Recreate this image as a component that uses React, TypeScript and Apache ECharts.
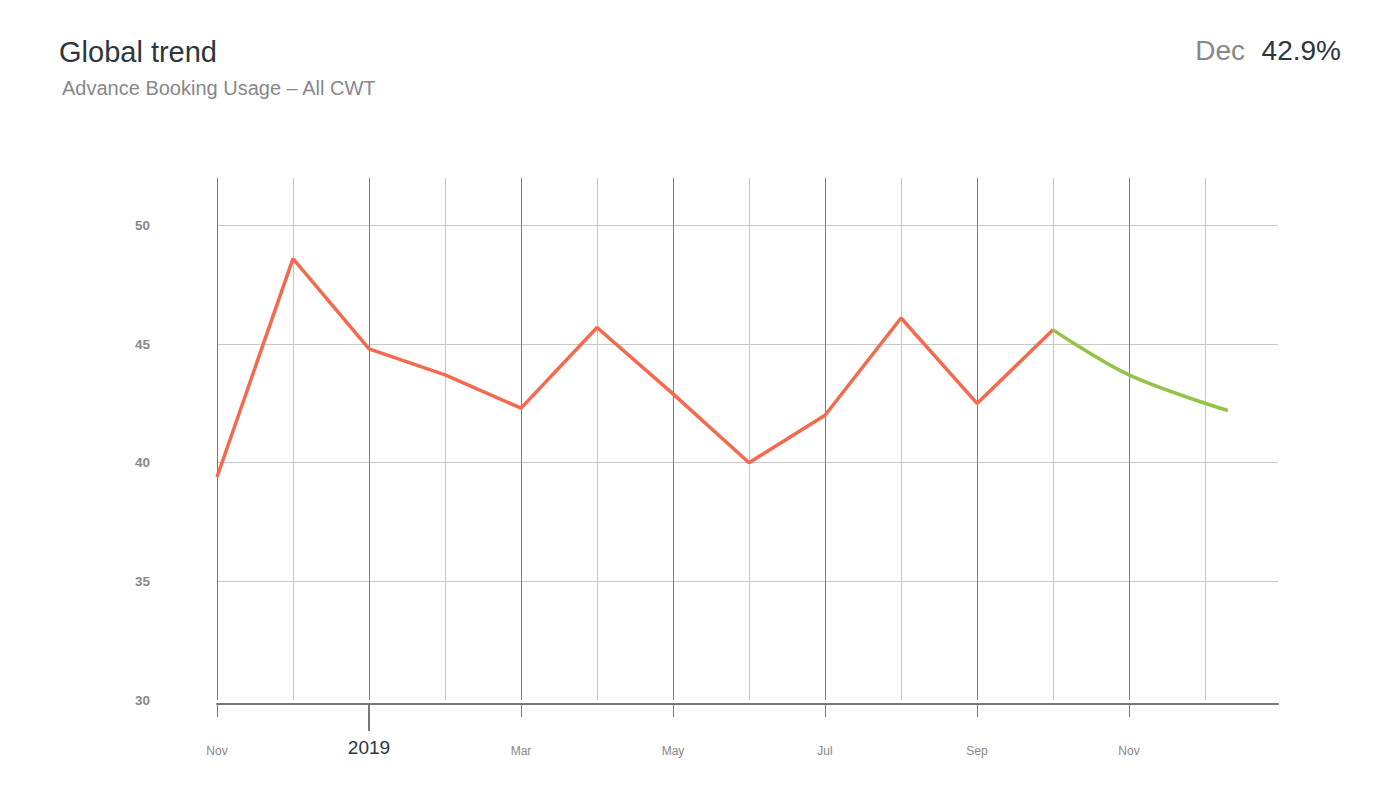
import React, { useEffect, useRef } from 'react';
import * as echarts from 'echarts';

const FONT = '"Liberation Sans", Arial, Helvetica, sans-serif';

const monthLabels = ['Nov', 'Dec', 'Jan', 'Feb', 'Mar', 'Apr', 'May', 'Jun', 'Jul', 'Aug', 'Sep', 'Oct', 'Nov', 'Dec', 'Jan'];
const labeledTicks = [0, 4, 6, 8, 10, 12];
const yearTick = 2;
const yearLabel = '2019';
const xMax = 13.96;

const actualX = [0, 1, 2, 3, 4, 5, 6, 7, 8, 9, 10, 11];
const actualY = [39.4, 48.6, 44.8, 43.7, 42.3, 45.7, 42.9, 40.0, 42.0, 46.1, 42.5, 45.6];

const forecastX = [11, 12, 13.3];
const forecastY = [45.6, 43.7, 42.2];

const yMin = 30;
const yMax = 52;
const yStep = 5;

const titleText = 'Global trend';
const subtitleText = 'Advance Booking Usage \u2013 All CWT';
const headerMonth = 'Dec';
const headerValue = '42.9%';

export default function App() {
  const ref = useRef<HTMLDivElement>(null);

  useEffect(() => {
    if (!ref.current) return;
    const chart = echarts.init(ref.current, null, { renderer: 'svg' });
    const xBase = {
      type: 'value',
      min: 0,
      max: xMax,
      interval: 1,
      position: 'bottom',
    };
    chart.setOption({
      animation: false,
      backgroundColor: '#ffffff',
      textStyle: { fontFamily: FONT },
      grid: { left: 217, right: 122, top: 178, bottom: 88, containLabel: false },
      graphic: [
        {
          type: 'text',
          x: 59,
          y: 52,
          style: { text: titleText, font: `29px ${FONT}`, fill: '#2b3640', verticalAlign: 'middle' },
        },
        {
          type: 'text',
          x: 62,
          y: 88,
          style: { text: subtitleText, font: `20px ${FONT}`, fill: '#888888', verticalAlign: 'middle' },
        },
        {
          type: 'text',
          x: 1245,
          y: 50,
          style: { text: headerMonth, font: `28px ${FONT}`, fill: '#888888', align: 'right', verticalAlign: 'middle' },
        },
        {
          type: 'text',
          x: 1341,
          y: 50,
          style: { text: headerValue, font: `28px ${FONT}`, fill: '#2b3640', align: 'right', verticalAlign: 'middle' },
        },
      ],
      xAxis: [
        {
          ...xBase,
          offset: 4,
          axisLine: { show: true, onZero: false, lineStyle: { color: '#777777', width: 2 } },
          axisTick: { show: false },
          axisLabel: { show: false },
          splitLine: {
            show: true,
            showMaxLine: false,
            lineStyle: { color: ['#7a7a7a', '#c6c6c6'], width: 1 },
          },
        },
        {
          ...xBase,
          offset: 4,
          axisLine: { show: false },
          axisTick: { show: true, customValues: labeledTicks, length: 13, lineStyle: { color: '#777777', width: 1 } },
          axisLabel: {
            show: true,
            customValues: labeledTicks,
            margin: 41,
            fontSize: 12,
            color: '#888888',
            fontFamily: FONT,
            formatter: (v: number) => monthLabels[Math.round(v)] ?? '',
          },
          splitLine: { show: false },
        },
        {
          ...xBase,
          offset: 4,
          axisLine: { show: false },
          axisTick: { show: true, customValues: [yearTick], length: 27, lineStyle: { color: '#777777', width: 2 } },
          axisLabel: {
            show: true,
            customValues: [yearTick],
            margin: 34,
            fontSize: 19,
            color: '#2b3640',
            fontFamily: FONT,
            formatter: () => yearLabel,
          },
          splitLine: { show: false },
        },
      ],
      yAxis: {
        type: 'value',
        min: yMin,
        max: yMax,
        interval: yStep,
        axisLine: { show: false },
        axisTick: { show: false },
        axisLabel: {
          margin: 67,
          fontSize: 13.5,
          fontWeight: 'bold',
          color: '#888888',
          fontFamily: FONT,
          showMaxLabel: false,
        },
        splitLine: {
          show: true,
          showMinLine: false,
          showMaxLine: false,
          lineStyle: { color: '#c8c8c8', width: 1 },
        },
      },
      series: [
        {
          type: 'line',
          xAxisIndex: 0,
          data: actualX.map((x, i) => [x, actualY[i]]),
          showSymbol: false,
          lineStyle: { color: '#f36b4e', width: 3.5 },
          itemStyle: { color: '#f36b4e' },
          z: 3,
        },
        {
          type: 'line',
          xAxisIndex: 0,
          data: forecastX.map((x, i) => [x, forecastY[i]]),
          showSymbol: false,
          smooth: 0.35,
          lineStyle: { color: '#94c447', width: 3.5 },
          itemStyle: { color: '#94c447' },
          z: 4,
        },
      ],
    });
    return () => chart.dispose();
  }, []);

  return (
    <div
      ref={ref}
      style={{ position: 'absolute', left: 0, top: 0, width: 1400, height: 788 }}
    />
  );
}
